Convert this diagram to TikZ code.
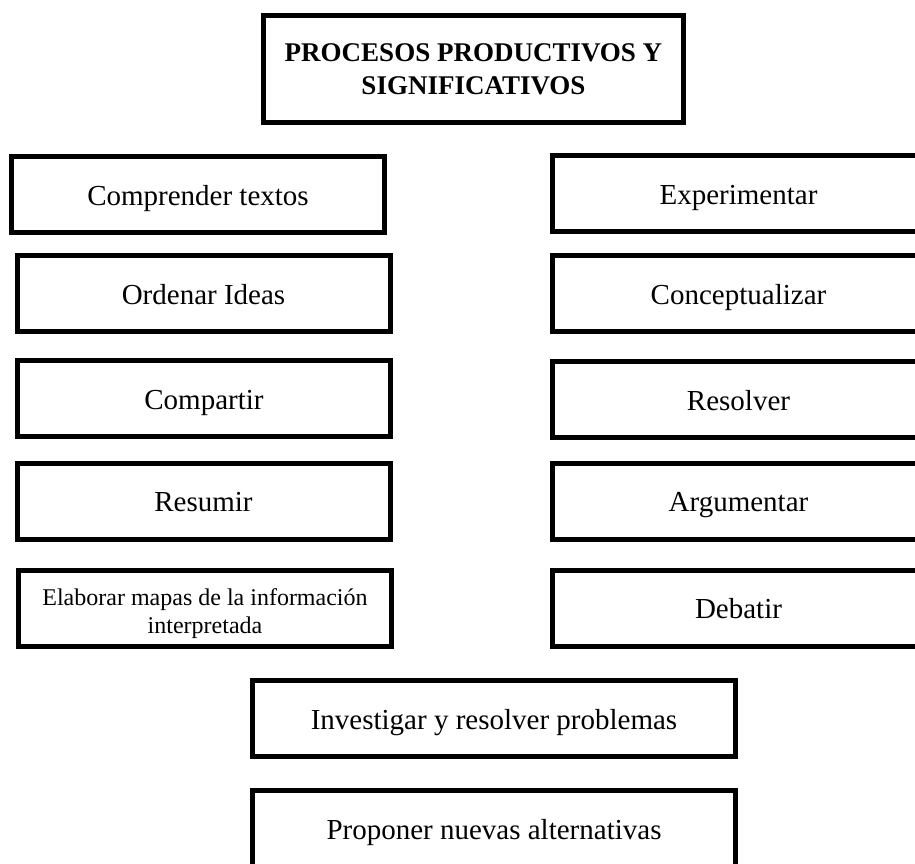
\documentclass[tikz,border=0pt]{standalone}
\usepackage{fontspec}
\setmainfont{Liberation Serif}
\begin{document}
\begin{tikzpicture}[x=1pt,y=-1pt,
  marco/.style={draw,line width=5pt,inner sep=0pt,minimum width=373pt,minimum height=76pt,
    align=center,font=\fontsize{29}{33}\selectfont},
  caja/.style={marco,text height=31pt,text depth=10pt},
  ancha/.style={caja,minimum width=483pt}]
\useasboundingbox (0,0) rectangle (915,863);
\clip (0,0) rectangle (915,863);
\node[marco,minimum width=420pt,minimum height=107pt,font=\fontsize{27}{33}\selectfont\bfseries] (titulo) at (473.5,69) {PROCESOS PRODUCTIVOS Y\\SIGNIFICATIVOS};
% columna izquierda
\node[caja] (comprender) at (198,194.5) {Comprender textos};
\node[caja] (ordenar) at (203.5,293.5) {Ordenar Ideas};
\node[caja] (compartir) at (204,398.5) {Compartir};
\node[caja] (resumir) at (203.5,501) {Resumir};
\node[marco,font=\fontsize{24}{28}\selectfont] (elaborar) at (205,608) {\rule{0pt}{29pt}Elaborar mapas de la información\\interpretada};
% columna derecha
\node[caja] (experimentar) at (738.5,193.5) {Experimentar};
\node[caja] (conceptualizar) at (738.5,293.5) {Conceptualizar};
\node[caja] (resolver) at (738.5,399.5) {Resolver};
\node[caja] (argumentar) at (738.5,501) {Argumentar};
\node[caja] (debatir) at (738.5,608) {Debatir};
% abajo
\node[ancha] (investigar) at (494,718.5) {Investigar y resolver problemas};
\node[ancha] (proponer) at (494,828.5) {Proponer nuevas alternativas};
\end{tikzpicture}
\end{document}
